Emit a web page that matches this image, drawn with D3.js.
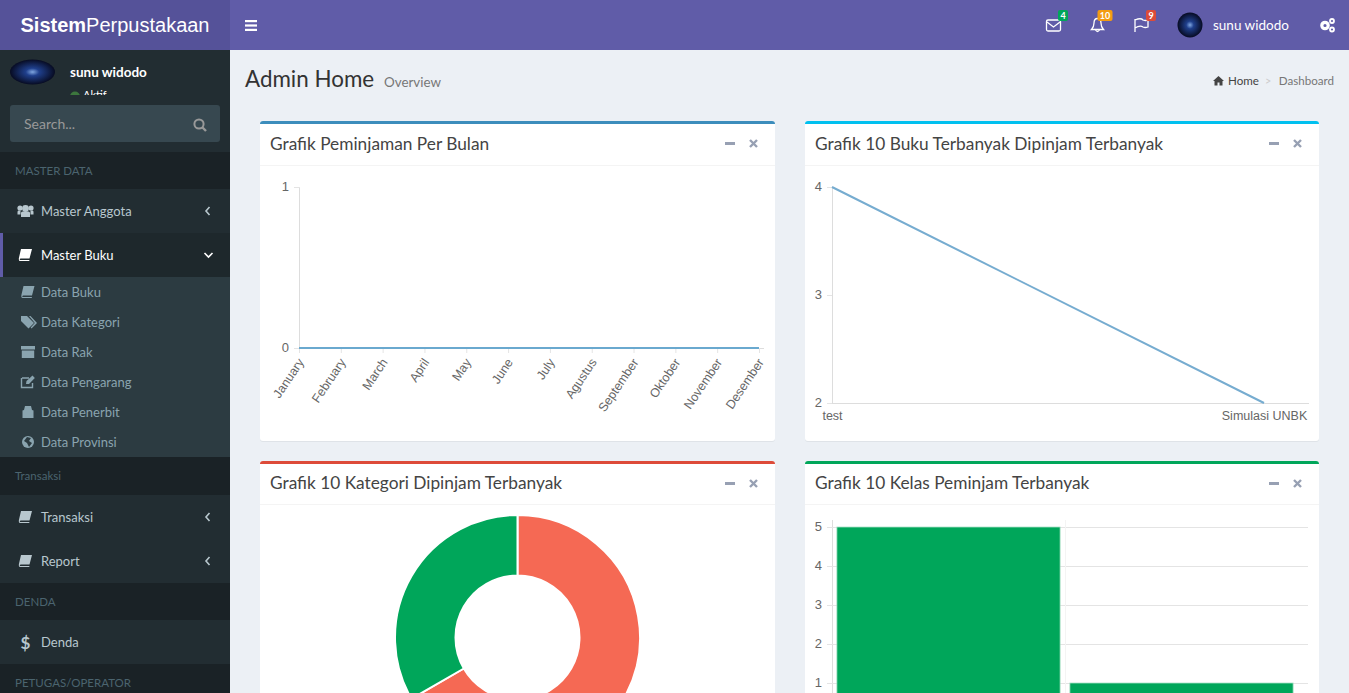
<!DOCTYPE html>
<html>
<head>
<meta charset="utf-8">
<title>Admin Home</title>
<script src="https://cdn.jsdelivr.net/npm/d3@7"></script>
<style>
html, body { margin: 0; padding: 0; overflow: hidden; background: #ecf0f5; }
svg { display: block; font-family: Lato, "Noto Sans", sans-serif; }
.chart text { font-family: "Liberation Sans", Arial, sans-serif; font-size: 12.5px; fill: #666; }
.chart .yaxis text { font-size: 13px; }
.chart .domain { stroke: #ddd; }
.chart .tick line { stroke: #e4e4e4; }
</style>
</head>
<body>
<svg id="page" width="1349" height="693"></svg>
<script>
// chart data
const months = ["January", "February", "March", "April", "May", "June", "July", "Agustus", "September", "Oktober", "November", "Desember"];
const loansPerMonth = [0, 0, 0, 0, 0, 0, 0, 0, 0, 0, 0, 0];
const bookTitles = ["test", "Simulasi UNBK"];
const bookLoans = [4, 2];
const categoryNames = ["Kategori 1", "Kategori 2"];
const categoryLoans = [4, 2];
const categoryColors = ["#f56954", "#00a65a"];
const classNames = ["Kelas 1", "Kelas 2"];
const classLoans = [5, 1];

// page text
const sidebarRows = [
    { type: "head", label: "MASTER DATA", y: 152, h: 37 },
    { type: "item", label: "Master Anggota", y: 189, icon: "users" },
    { type: "open", label: "Master Buku", y: 233, icon: "book" },
    { type: "head", label: "Transaksi", y: 457, h: 38 },
    { type: "item", label: "Transaksi", y: 495, icon: "book" },
    { type: "item", label: "Report", y: 539, icon: "book" },
    { type: "head", label: "DENDA", y: 583, h: 37 },
    { type: "plain", label: "Denda", y: 620, icon: "dollar" },
    { type: "head", label: "PETUGAS/OPERATOR", y: 664, h: 37 }
];
const subItems = [
    { label: "Data Buku", icon: "book" },
    { label: "Data Kategori", icon: "tag" },
    { label: "Data Rak", icon: "box" },
    { label: "Data Pengarang", icon: "edit" },
    { label: "Data Penerbit", icon: "building" },
    { label: "Data Provinsi", icon: "globe" }
];
const panels = [
    { title: "Grafik Peminjaman Per Bulan", x: 260, y: 121, w: 515, h: 320, head: 44, color: "#3c8dbc" },
    { title: "Grafik 10 Buku Terbanyak Dipinjam Terbanyak", x: 805, y: 121, w: 514, h: 320, head: 44, color: "#00c0ef" },
    { title: "Grafik 10 Kategori Dipinjam Terbanyak", x: 260, y: 461, w: 515, h: 320, head: 43, color: "#dd4b39" },
    { title: "Grafik 10 Kelas Peminjam Terbanyak", x: 805, y: 461, w: 514, h: 320, head: 43, color: "#00a65a" }
];
const badges = [
    { label: "4", x: 1062.5, w: 10, color: "#00a65a" },
    { label: "10", x: 1104.5, w: 15, color: "#f39c12" },
    { label: "9", x: 1150.5, w: 10, color: "#dd4b39" }
];

const svg = d3.select("#page");
const defs = svg.append("defs");

// avatar stand-in, the photo is dark blue with a bright middle
const grad = defs.append("radialGradient").attr("id", "avatar");
grad.append("stop").attr("offset", "0%").attr("stop-color", "#7fa6e0");
grad.append("stop").attr("offset", "30%").attr("stop-color", "#1f3f8c");
grad.append("stop").attr("offset", "100%").attr("stop-color", "#070b22");
defs.append("clipPath").attr("id", "userClip").append("rect")
    .attr("x", 0).attr("y", 50).attr("width", 230).attr("height", 45);
defs.append("clipPath").attr("id", "donutClip").append("rect")
    .attr("x", 260).attr("y", 505).attr("width", 515).attr("height", 188);

function label(parent, txt, x, y, size, color, extra) {
    const t = parent.append("text").text(txt)
        .attr("x", x).attr("y", y)
        .attr("font-size", size).attr("fill", color);
    if (extra) Object.keys(extra).forEach(k => t.attr(k, extra[k]));
    return t;
}

// small hand drawn icons, roughly 16px wide, centred on cx,cy
function icon(parent, name, cx, cy, color) {
    const g = parent.append("g").attr("transform", "translate(" + cx + "," + cy + ")").attr("fill", color);
    if (name === "users") {
        g.append("circle").attr("r", 3.4).attr("cy", -2.5);
        g.append("circle").attr("r", 2.6).attr("cx", -5.5).attr("cy", -3);
        g.append("circle").attr("r", 2.6).attr("cx", 5.5).attr("cy", -3);
        g.append("path").attr("d", "M-4.5,6V2Q-4.5,0.5-3,0.5H3Q4.5,0.5,4.5,2V6Z");
        g.append("path").attr("d", "M-8,3.5V1Q-8,-0.5-7,-0.5H-5V3.5ZM8,3.5V1Q8,-0.5,7,-0.5H5V3.5Z");
    } else if (name === "book") {
        g.append("path").attr("d", "M-4.5,-6H6.5L4,3.5H-4.8Q-6,3.5-5.6,5H4L3.7,6H-5.5Q-7,6-6.6,3Z");
    } else if (name === "tag") {
        g.append("path").attr("d", "M-7,-6H-1L6,1L0.5,6.5L-7,-1Z");
        g.append("path").attr("d", "M1,-6H2.5L9,1L3.5,6.5L2.7,5.6L6.8,1Z");
    } else if (name === "box") {
        g.append("rect").attr("x", -7).attr("y", -6).attr("width", 14).attr("height", 3.5);
        g.append("rect").attr("x", -6.2).attr("y", -1.5).attr("width", 12.4).attr("height", 7.5);
    } else if (name === "edit") {
        g.append("path").attr("d", "M-6,-4H1M4.5,1V5.5H-6.5V-4").attr("fill", "none").attr("stroke", color).attr("stroke-width", 1.4);
        g.append("path").attr("d", "M-2,2L-1.5,-1L4.5,-6.5L6.8,-4L1,2Z");
    } else if (name === "building") {
        g.append("path").attr("d", "M-3,-6H3L4,-2L5.5,-1.5V6H-5.5V-1.5L-4,-2Z");
    } else if (name === "globe") {
        g.append("circle").attr("r", 6);
        g.append("path").attr("d", "M-1,-5L3,-4L1,-1L4,1L1,5L-1,1L-4,-1Z").attr("fill", "#2c3b41");
    } else if (name === "dollar") {
        g.append("text").text("$").attr("x", -5).attr("y", 6.5).attr("font-size", 17).attr("font-weight", 700);
    }
    return g;
}

function chevron(parent, points, color) {
    parent.append("polyline").attr("points", points)
        .attr("fill", "none").attr("stroke", color).attr("stroke-width", 1.6);
}

// ---------- header ----------
svg.append("rect").attr("width", 1349).attr("height", 693).attr("fill", "#ecf0f5");
svg.append("rect").attr("width", 1349).attr("height", 50).attr("fill", "#605ca8");
svg.append("rect").attr("width", 230).attr("height", 50).attr("fill", "#555299");
const logo = label(svg, "", 115, 32, 20, "#fff", { "text-anchor": "middle", "font-family": "Liberation Sans, Arial, sans-serif" });
logo.append("tspan").attr("font-weight", 700).text("Sistem");
logo.append("tspan").text("Perpustakaan");

// hamburger
svg.append("g").selectAll("rect").data(["a", "b", "c"]).enter().append("rect")
    .attr("x", 245).attr("y", (d, i) => 20 + i * 4.4).attr("width", 12).attr("height", 2.2).attr("fill", "#fff");

// navbar icons
const nav = svg.append("g").attr("fill", "none").attr("stroke", "#fff").attr("stroke-width", 1.3);
nav.append("rect").attr("x", 1046.5).attr("y", 20).attr("width", 14).attr("height", 11).attr("rx", 1.5);
nav.append("polyline").attr("points", "1047,22 1053.5,27 1060,22");
nav.append("path").attr("d", "M1091.5,29.5Q1094,27 1094,23Q1094,18.5 1097.5,18.5Q1101,18.5 1101,23Q1101,27 1103.5,29.5ZM1095.5,30Q1097.5,33 1099.5,30");
nav.append("path").attr("d", "M1135,32V19M1135,20Q1141,17.5 1143,20Q1146,21 1148,20V27Q1145,28 1143,27Q1140,25 1135,28");

const badgeG = svg.append("g").selectAll("g").data(badges).enter().append("g");
badgeG.append("rect").attr("x", d => d.x - d.w / 2 + 0.5).attr("y", 10).attr("width", d => d.w)
    .attr("height", 11).attr("rx", 2).attr("fill", d => d.color);
badgeG.append("text").text(d => d.label).attr("x", d => d.x + 0.5).attr("y", 18.5)
    .attr("text-anchor", "middle").attr("font-size", 9).attr("font-weight", 700).attr("fill", "#fff");

svg.append("circle").attr("cx", 1190).attr("cy", 25).attr("r", 12.5).attr("fill", "url(#avatar)");
label(svg, "sunu widodo", 1213, 30, 13.5, "#fff");

const gears = svg.append("g").attr("fill", "none").attr("stroke", "#fff");
gears.append("circle").attr("cx", 1325).attr("cy", 25.5).attr("r", 3.2).attr("stroke-width", 3.2);
gears.append("circle").attr("cx", 1332).attr("cy", 21).attr("r", 2).attr("stroke-width", 1.8);
gears.append("circle").attr("cx", 1332).attr("cy", 29.5).attr("r", 2).attr("stroke-width", 1.8);

// ---------- sidebar ----------
const side = svg.append("g");
side.append("rect").attr("y", 50).attr("width", 230).attr("height", 643).attr("fill", "#222d32");
side.append("ellipse").attr("cx", 32.5).attr("cy", 72).attr("rx", 22.5).attr("ry", 12.5).attr("fill", "url(#avatar)");
label(side, "sunu widodo", 70, 77, 13.5, "#fff", { "font-weight": 700 });
const status = side.append("g").attr("clip-path", "url(#userClip)");
status.append("circle").attr("cx", 75).attr("cy", 96.5).attr("r", 5).attr("fill", "#3c763d");
label(status, "Aktif", 83, 99, 11, "#fff");

side.append("rect").attr("x", 10).attr("y", 105).attr("width", 210).attr("height", 37).attr("rx", 3).attr("fill", "#374850");
label(side, "Search...", 24, 129, 14, "#999");
side.append("circle").attr("cx", 199).attr("cy", 124).attr("r", 4.6).attr("fill", "none").attr("stroke", "#999").attr("stroke-width", 2);
side.append("line").attr("x1", 202.5).attr("y1", 127.5).attr("x2", 206).attr("y2", 131).attr("stroke", "#999").attr("stroke-width", 2.4);

side.append("rect").attr("x", 0).attr("y", 277).attr("width", 230).attr("height", 180).attr("fill", "#2c3b41");
sidebarRows.forEach(r => {
    if (r.type === "head") {
        side.append("rect").attr("y", r.y).attr("width", 230).attr("height", r.h).attr("fill", "#1a2226");
        label(side, r.label, 15, r.y + 23, 11.5, "#4b646f");
        return;
    }
    const open = r.type === "open";
    const color = open ? "#fff" : "#b8c7ce";
    if (open) {
        side.append("rect").attr("y", r.y).attr("width", 230).attr("height", 44).attr("fill", "#1e282c");
        side.append("rect").attr("y", r.y).attr("width", 3).attr("height", 44).attr("fill", "#605ca8");
    }
    icon(side, r.icon, 25.5, r.y + 22, color);
    label(side, r.label, 41, r.y + 27, 13, color);
    if (r.type === "item") chevron(side, "209.5," + (r.y + 18) + " 206," + (r.y + 22) + " 209.5," + (r.y + 26), "#b8c7ce");
    if (open) chevron(side, "204.5," + (r.y + 20) + " 208.5," + (r.y + 24) + " 212.5," + (r.y + 20), "#fff");
});
subItems.forEach((s, i) => {
    const cy = 292 + i * 30;
    icon(side, s.icon, 28, cy, "#8aa4af");
    label(side, s.label, 41, cy + 5, 13, "#8aa4af");
});

// ---------- content header ----------
label(svg, "Admin Home", 245, 87, 22.4, "#333");
label(svg, "Overview", 384, 87, 13.4, "#777");
svg.append("path").attr("d", "M1213,81L1218.5,76L1224,81L1222.5,81V85.5H1219.5V82.5H1217.5V85.5H1214.5V81Z").attr("fill", "#444");
label(svg, "Home", 1228, 85, 11.6, "#444");
label(svg, ">", 1265, 85, 11, "#ccc");
label(svg, "Dashboard", 1334, 85, 11.6, "#777", { "text-anchor": "end" });

// ---------- panels ----------
panels.forEach(p => {
    const g = svg.append("g");
    g.append("rect").attr("x", p.x).attr("y", p.y + 1).attr("width", p.w).attr("height", p.h).attr("rx", 3).attr("fill", "#dfe3e8");
    g.append("rect").attr("x", p.x).attr("y", p.y).attr("width", p.w).attr("height", p.h).attr("rx", 3).attr("fill", "#fff");
    g.append("path").attr("d", "M" + p.x + "," + (p.y + 3) + "q0,-3 3,-3h" + (p.w - 6) + "q3,0 3,3z").attr("fill", p.color);
    g.append("line").attr("x1", p.x).attr("x2", p.x + p.w).attr("y1", p.y + p.head + 0.5).attr("y2", p.y + p.head + 0.5).attr("stroke", "#f4f4f4");
    label(g, p.title, p.x + 10, p.y + p.head - 15, 17.3, "#444");
    const tx = p.x + p.w;
    g.append("rect").attr("x", tx - 50).attr("y", p.y + 21).attr("width", 10).attr("height", 3).attr("fill", "#97a0b3");
    g.append("path").attr("d", "M" + (tx - 25) + "," + (p.y + 19) + "l7,7m0,-7l-7,7")
        .attr("stroke", "#97a0b3").attr("stroke-width", 2.4).attr("fill", "none");
});

// ---------- chart 1: loans per month ----------
const c1 = svg.append("g").attr("class", "chart");
const x1 = d3.scalePoint().domain(months).range([299, 759]);
const y1 = d3.scaleLinear().domain([0, 1]).range([348, 187]);
const line1 = d3.line().x((d, i) => x1(months[i])).y(d => y1(d));

c1.append("g").attr("class", "yaxis").attr("transform", "translate(299,0)")
    .call(d3.axisLeft(y1).ticks(1).tickFormat(d3.format("d")).tickSize(5).tickPadding(5))
    .call(g => g.selectAll("text").attr("dy", "0.27em"));
const ax1 = c1.append("g").attr("transform", "translate(0,348)")
    .call(d3.axisBottom(x1).tickSize(5));
ax1.select(".domain").attr("d", "M299,0.5H764");
ax1.selectAll("text")
    .style("text-anchor", "end")
    .attr("x", -9).attr("y", 4.5).attr("dy", "0.6em")
    .attr("transform", "rotate(-56)");
c1.append("path").datum(loansPerMonth).attr("d", line1)
    .attr("fill", "none").attr("stroke", "#6aa9cf").attr("stroke-width", 2);

// ---------- chart 2: most borrowed books ----------
const c2 = svg.append("g").attr("class", "chart");
const x2 = d3.scalePoint().domain(bookTitles).range([832, 1264]);
const y2 = d3.scaleLinear().domain([2, 4]).range([403, 187]);
const line2 = d3.line().x((d, i) => x2(bookTitles[i])).y(d => y2(d));

c2.append("g").attr("class", "yaxis").attr("transform", "translate(832,0)")
    .call(d3.axisLeft(y2).ticks(2).tickFormat(d3.format("d")).tickSize(5).tickPadding(5))
    .call(g => g.selectAll("text").attr("dy", "0.27em"));
const ax2 = c2.append("g").attr("transform", "translate(0,403)")
    .call(d3.axisBottom(x2).tickSize(0).tickPadding(8));
ax2.select(".domain").attr("d", "M832,0.5H1309");
c2.append("path").datum(bookLoans).attr("d", line2)
    .attr("fill", "none").attr("stroke", "#76acd0").attr("stroke-width", 2);

// ---------- chart 3: category donut, runs off the bottom of the window ----------
const pie = d3.pie().sort(null)(categoryLoans);
const arc = d3.arc().innerRadius(62).outerRadius(122.5);
svg.append("g").attr("clip-path", "url(#donutClip)")
    .append("g").attr("transform", "translate(517.5,637.5)")
    .selectAll("path").data(pie).enter().append("path")
    .attr("d", arc)
    .attr("fill", (d, i) => categoryColors[i])
    .attr("stroke", "#fff").attr("stroke-width", 2);

// ---------- chart 4: classes, axis zero is below the window ----------
const c4 = svg.append("g").attr("class", "chart");
const x4 = d3.scaleBand().domain(classNames).range([832, 1298]).paddingInner(0.042).paddingOuter(0.021);
const y4 = d3.scaleLinear().domain([0, 5]).range([722, 527]);

c4.append("g").attr("class", "yaxis").attr("transform", "translate(832,0)")
    .call(d3.axisLeft(y4).ticks(5).tickFormat(d3.format("d")).tickSize(5).tickPadding(5))
    .call(g => g.selectAll(".tick").filter(d => d === 0).remove())
    .call(g => g.select(".domain").attr("d", "M0.5,520V722"))
    .call(g => g.selectAll("text").attr("dy", "0.27em"))
    .call(g => g.selectAll(".tick line").attr("x2", 476).attr("x1", -5).attr("stroke", "#f1f1f1"));
c4.append("line").attr("x1", 1065.5).attr("x2", 1065.5).attr("y1", 520).attr("y2", 693).attr("stroke", "#f4f4f4");

c4.selectAll("rect.bar").data(classLoans).enter().append("rect")
    .attr("class", "bar")
    .attr("x", (d, i) => x4(classNames[i]))
    .attr("y", d => y4(d))
    .attr("width", x4.bandwidth())
    .attr("height", d => y4(0) - y4(d))
    .attr("fill", "#00a65a")
    .attr("stroke", "#a8e0c6").attr("stroke-width", 0.8);
</script>
</body>
</html>
